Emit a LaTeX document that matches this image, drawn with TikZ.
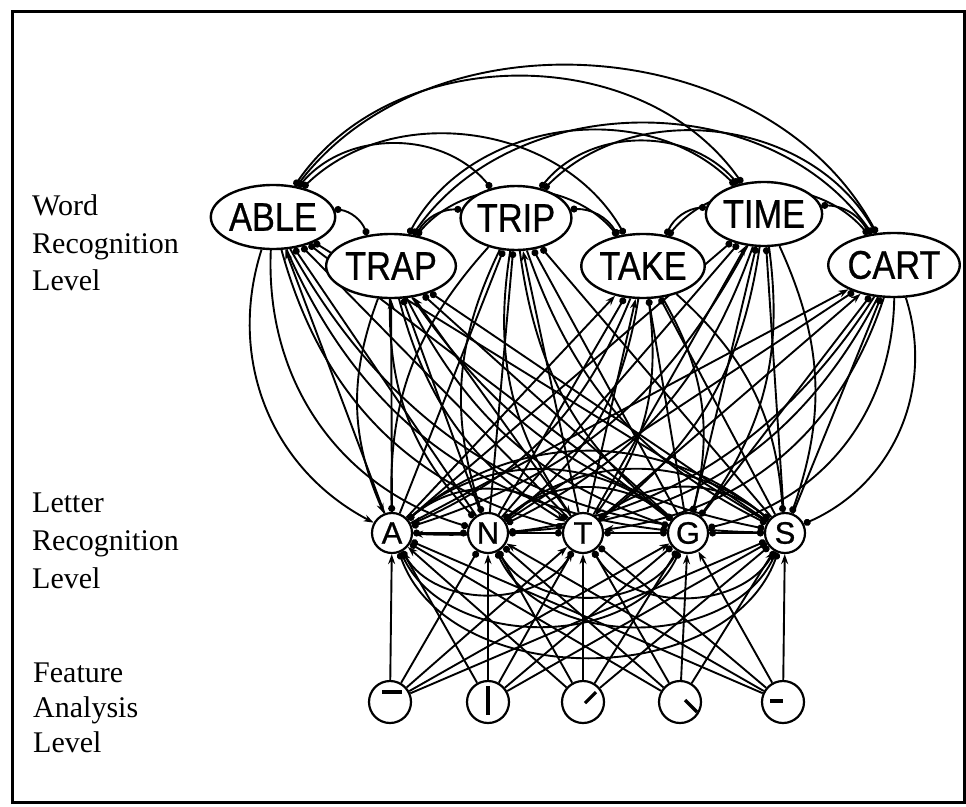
\documentclass[tikz,border=0pt]{standalone}
\usepackage{fontspec}
\setmainfont{Liberation Serif}
\newfontfamily\lcdfont[FakeStretch=0.86,FakeBold=0.6]{Liberation Sans}
\newfontfamily\letfont[FakeBold=0.8]{Liberation Sans}
\usetikzlibrary{shapes.geometric,arrows.meta,backgrounds}
\begin{document}
\begin{tikzpicture}[x=1pt,y=-1pt,
  wordnode/.style={ellipse,draw,fill=white,line width=2.4pt,minimum width=108pt,minimum height=64pt,inner sep=0pt,font=\lcdfont\fontsize{40}{40}\selectfont},
  letnode/.style={circle,draw,fill=white,line width=2.2pt,minimum size=40pt,inner sep=0pt,font=\letfont\fontsize{31}{31}\selectfont},
  featnode/.style={circle,draw,fill=white,line width=2.2pt,minimum size=42pt,inner sep=0pt},
  conn/.style={line width=1.9pt},
  exc/.style={conn,-{Stealth[length=10pt,width=7pt]}},
  inh/.style={conn,-{Circle[length=7pt]}},
  inhb/.style={conn,{Circle[length=7pt]}-{Circle[length=7pt]}},
  tdr/.style={bend right=#1},
  tdl/.style={bend left=#1},
  bar/.style={line width=3.2pt},
  lbl/.style={anchor=base west,font=\fontsize{30}{30}\selectfont,inner sep=0pt}
]
\useasboundingbox (0,0) rectangle (966,806);
\draw[line width=3pt] (12,11) rectangle (964,802);

% level labels
\node[lbl] (t1) at (32,215) {Word};
\node[lbl] (t2) at (32,253) {Recognition};
\node[lbl] (t3) at (32,290) {Level};
\node[lbl] (t4) at (32,512) {Letter};
\node[lbl] (t5) at (32,550) {Recognition};
\node[lbl] (t6) at (32,588) {Level};
\node[lbl] (t7) at (33,682) {Feature};
\node[lbl] (t8) at (33,717) {Analysis};
\node[lbl] (t9) at (33,752) {Level};

% word nodes
\node[wordnode] (w1) at (273,217) {ABLE};
\node[wordnode] (w2) at (391,266) {TRAP};
\node[wordnode] (w3) at (516,218) {TRIP};
\node[wordnode] (w4) at (643,266) {TAKE};
\node[wordnode] (w5) at (764,214) {TIME};
\node[wordnode] (w6) at (894,265) {CART};

% letter nodes
\node[letnode] (l1) at (392,533) {A};
\node[letnode] (l2) at (488,533) {N};
\node[letnode] (l3) at (583,533) {T};
\node[letnode] (l4) at (688,533) {G};
\node[letnode] (l5) at (785,533) {S};

% feature nodes
\node[featnode] (f1) at (390,702) {};
\node[featnode] (f2) at (488,702) {};
\node[featnode] (f3) at (583,702) {};
\node[featnode] (f4) at (680,702) {};
\node[featnode] (f5) at (783,702) {};
\draw[bar] ([shift={(-8,-10)}]f1.center) -- ([shift={(12,-10)}]f1.center);
\draw[bar] ([shift={(0,-16)}]f2.center) -- ([shift={(0,13)}]f2.center);
\draw[bar] ([shift={(2,1)}]f3.center) -- ([shift={(13,-10)}]f3.center);
\draw[bar] ([shift={(5,-2)}]f4.center) -- ([shift={(17,10)}]f4.center);
\draw[bar] ([shift={(-13,-1)}]f5.center) -- ([shift={(0,-1)}]f5.center);

\begin{pgfonlayer}{background}
% feature -> letter
\foreach \f/\l/\s in {1/1/exc,1/2/inh,1/3/exc,1/4/exc,1/5/inh,
                      2/1/exc,2/2/exc,2/3/exc,2/4/inh,2/5/inh,
                      3/1/exc,3/2/inh,3/3/exc,3/4/inh,3/5/inh,
                      4/1/inh,4/2/inh,4/3/inh,4/4/exc,4/5/exc,
                      5/1/inh,5/2/exc,5/3/inh,5/4/exc,5/5/exc}
  \draw[\s] (f\f) -- (l\l);

% letter - letter lateral inhibition
\foreach \i/\j in {1/2,2/3,3/4,4/5}
  \draw[inhb] (l\i) -- (l\j);
\foreach \i/\j/\b in {1/3/40,1/4/40,1/5/40,2/4/40,2/5/40,3/5/40}
  \draw[inhb] (l\i) to[bend left=\b] (l\j);
\foreach \i/\j/\b in {1/3/60,1/4/65,1/5/70,2/4/60,2/5/65,3/5/60}
  \draw[inhb] (l\i) to[bend right=\b] (l\j);

% letter -> word (bottom-up)
\foreach \l/\w/\s in {1/1/exc,1/2/exc,1/3/inh,1/4/exc,1/5/inh,1/6/exc,
                      2/1/inh,2/2/inh,2/3/inh,2/4/inh,2/5/inh,2/6/inh,
                      3/1/inh,3/2/exc,3/3/exc,3/4/exc,3/5/exc,3/6/exc,
                      4/1/inh,4/2/inh,4/3/inh,4/4/inh,4/5/inh,4/6/inh,
                      5/1/inh,5/2/inh,5/3/inh,5/4/inh,5/5/inh,5/6/inh}
  \draw[\s] (l\l) -- (w\w);

% word -> letter (top-down)
\foreach \l/\w/\s/\d/\b in {1/1/exc/r/40,1/2/exc/r/22,1/3/inh/r/22,1/4/exc/l/22,1/5/inh/l/22,1/6/exc/l/30,
                      2/1/inh/r/38,2/2/inh/r/22,2/3/inh/r/22,2/4/inh/l/22,2/5/inh/l/22,2/6/inh/l/30,
                      3/1/inh/r/30,3/2/exc/r/22,3/3/exc/r/22,3/4/exc/l/22,3/5/exc/l/22,3/6/exc/l/32,
                      4/1/inh/r/30,4/2/inh/r/22,4/3/inh/r/22,4/4/inh/l/22,4/5/inh/l/22,4/6/inh/l/38,
                      5/1/inh/r/30,5/2/inh/r/22,5/3/inh/r/22,5/4/inh/l/22,5/5/inh/l/22,5/6/inh/l/42}
  {\draw[\s,td\d=\b] (w\w) to (l\l);}

% word - word lateral inhibition
\foreach \i/\j in {1/2,2/3,3/4,4/5,5/6}
  \draw[inhb] (w\i) to[bend left=30] (w\j);
\foreach \i/\j/\b in {1/3/50,1/4/52,1/5/55,1/6/57,2/4/50,2/5/53,2/6/55,3/5/50,3/6/53,4/6/50}
  \draw[inhb] (w\i) to[bend left=\b] (w\j);
\end{pgfonlayer}
\end{tikzpicture}
\end{document}
